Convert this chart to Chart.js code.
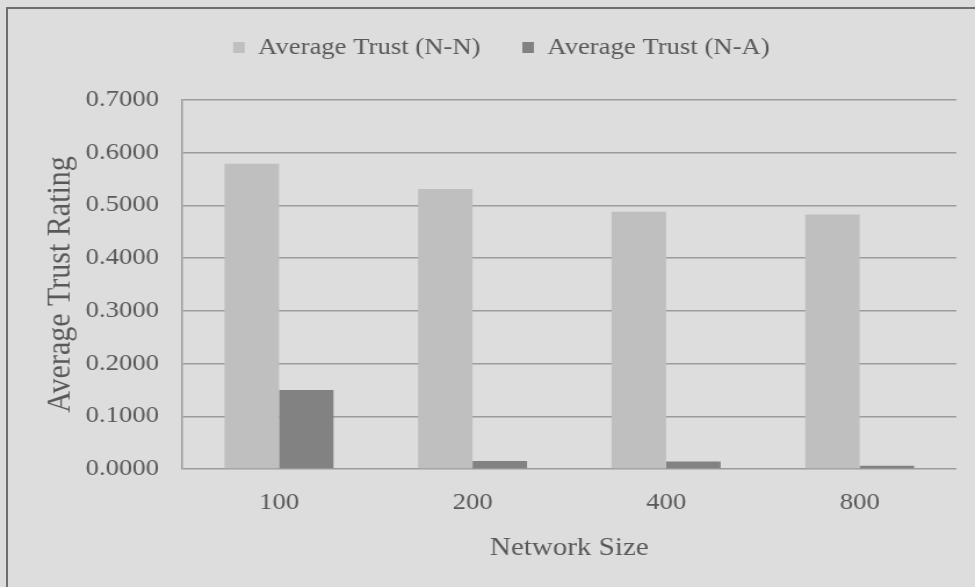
<!DOCTYPE html>
<html>
<head>
<meta charset="utf-8">
<script src="https://cdn.jsdelivr.net/npm/chart.js@4/dist/chart.umd.min.js"></script>
<style>
  html, body { margin: 0; padding: 0; background: #dddddd; overflow: hidden; }
  body { width: 975px; height: 587px; position: relative; }
  #frame { position: absolute; left: 6px; top: 7px; width: 1100px; height: 700px; border: 2px solid #6e6e6e; box-sizing: border-box; }
  /* chart is drawn a bit narrow and widened to the page */
  #wrap { position: absolute; left: 0; top: 0; width: 840px; height: 587px; transform: scaleX(1.1607); transform-origin: 0 0; }
</style>
</head>
<body>
<div id="frame"></div>
<div id="wrap"><canvas id="chart" width="840" height="587"></canvas></div>
<script>
const sizes = ['100', '200', '400', '800'];
const trustNN = [0.579, 0.531, 0.488, 0.483];
const trustNA = [0.150, 0.015, 0.014, 0.006];
const yMax = 0.7;
const yStep = 0.1;

const textColor = '#595959';
const gridColor = '#9c9c9c';
const serif = 'Liberation Serif';

// keep the legend band a fixed height so the plot starts at the same place
const legendHeight = {
    id: 'legendHeight',
    afterInit(chart) {
        const fit = chart.legend.fit;
        chart.legend.fit = function () {
            fit.call(this);
            this.height = 100;
        };
    }
};

const ctx = document.getElementById('chart').getContext('2d');

const chart = new Chart(ctx, {
    type: 'bar',
    data: {
        labels: sizes,
        datasets: [{
            label: 'Average Trust (N-N)',
            data: trustNN,
            backgroundColor: '#bfbfbf',
            borderWidth: 0
        }, {
            label: 'Average Trust (N-A)',
            data: trustNA,
            backgroundColor: '#828282',
            borderWidth: 0
        }]
    },
    options: {
        responsive: false,
        animation: false,
        devicePixelRatio: 1,
        layout: {
            padding: { left: 40, right: 16, top: 0, bottom: 0 }
        },
        datasets: {
            bar: {
                categoryPercentage: 0.563,
                barPercentage: 1.0
            }
        },
        plugins: {
            tooltip: { enabled: false },
            legend: {
                position: 'top',
                labels: {
                    color: textColor,
                    font: { family: serif, size: 23 },
                    boxWidth: 10,
                    boxHeight: 11,
                    padding: 36
                }
            }
        },
        scales: {
            x: {
                grid: { display: false },
                border: { display: false },
                ticks: {
                    color: textColor,
                    font: { family: serif, size: 23 },
                    padding: 12
                },
                title: {
                    display: true,
                    text: 'Network Size',
                    color: textColor,
                    font: { family: serif, size: 25 },
                    padding: { top: 0, bottom: 24 }
                },
                afterFit(scale) { scale.height = 118; }
            },
            y: {
                min: 0,
                max: yMax,
                grid: {
                    color: gridColor,
                    lineWidth: 1.5,
                    drawTicks: false
                },
                border: { display: true, color: gridColor, width: 1.5 },
                ticks: {
                    stepSize: yStep,
                    color: textColor,
                    font: { family: serif, size: 23 },
                    padding: 20,
                    callback: v => v.toFixed(4)
                },
                title: {
                    display: true,
                    text: 'Average Trust Rating',
                    color: textColor,
                    font: { family: serif, size: 30 },
                    padding: { top: -6, bottom: 0 }
                },
                afterFit(scale) { scale.width = 117; }
            }
        }
    },
    plugins: [legendHeight]
});
</script>
</body>
</html>
